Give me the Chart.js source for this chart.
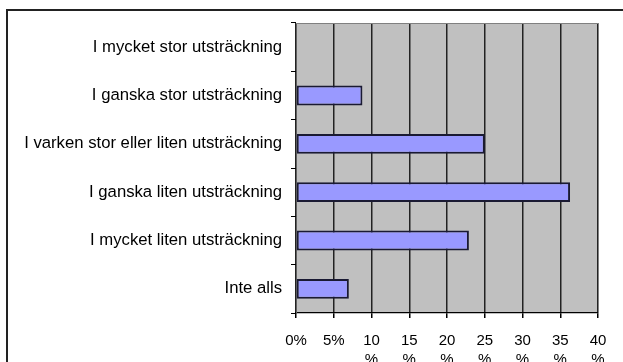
<!DOCTYPE html>
<html>
<head>
<meta charset="utf-8">
<style>
  html, body { margin: 0; padding: 0; background: #ffffff; overflow: hidden; }
  #wrap { position: relative; width: 623px; height: 362px; }
</style>
<script src="https://cdn.jsdelivr.net/npm/chart.js@4/dist/chart.umd.min.js"></script>
</head>
<body>
<div id="wrap"><canvas id="c" width="623" height="362"></canvas></div>
<script>
// Response categories, top to bottom
const categories = [
  'I mycket stor utsträckning',
  'I ganska stor utsträckning',
  'I varken stor eller liten utsträckning',
  'I ganska liten utsträckning',
  'I mycket liten utsträckning',
  'Inte alls'
];
// Share of answers, percent
const shares = [0, 8.8, 25.0, 36.3, 22.9, 7.0];
// X axis range and step, percent
const axisMin = 0;
const axisMax = 40;
const axisStep = 5;

const FONT = 'Arial, "Liberation Sans", sans-serif';

// Grey plot background, plot frame and the outer chart frame
const framePlugin = {
  id: 'frames',
  beforeDraw(chart) {
    const { ctx, chartArea: a } = chart;
    ctx.save();
    ctx.fillStyle = '#c0c0c0';
    ctx.fillRect(a.left, a.top, a.right - a.left, a.bottom - a.top);
    ctx.restore();
  },
  afterDraw(chart) {
    const { ctx, chartArea: a } = chart;
    ctx.save();
    ctx.strokeStyle = '#808080';
    ctx.lineWidth = 1;
    ctx.beginPath();
    ctx.moveTo(a.left, a.top + 0.5);
    ctx.lineTo(a.right + 0.5, a.top + 0.5);
    ctx.lineTo(a.right + 0.5, a.bottom);
    ctx.stroke();
    ctx.strokeStyle = '#222222';
    ctx.lineWidth = 2;
    ctx.strokeRect(7, 10, 700, 400);
    ctx.restore();
  }
};

new Chart(document.getElementById('c'), {
  type: 'bar',
  data: {
    labels: categories,
    datasets: [{
      data: shares,
      backgroundColor: '#9999ff',
      borderColor: '#1a1a33',
      borderWidth: 2,
      borderSkipped: false,
      barPercentage: 0.41,
      categoryPercentage: 1.0
    }]
  },
  options: {
    indexAxis: 'y',
    responsive: false,
    animation: false,
    devicePixelRatio: 1,
    layout: { padding: { top: 23, right: 25, left: 0, bottom: 0 } },
    plugins: {
      legend: { display: false },
      tooltip: { enabled: false }
    },
    scales: {
      x: {
        min: axisMin,
        max: axisMax,
        afterFit(scale) { scale.height = 49; },
        ticks: {
          stepSize: axisStep,
          autoSkip: false,
          maxRotation: 0,
          minRotation: 0,
          padding: 13,
          color: '#000000',
          font: { family: FONT, size: 15, lineHeight: 1.3 },
          callback: v => v < 10 ? v + '%' : [String(v), '%']
        },
        grid: {
          color: '#222222',
          lineWidth: 1.5,
          drawTicks: true,
          tickLength: 5,
          tickColor: '#000000'
        },
        border: { display: true, color: '#000000', width: 1.3 }
      },
      y: {
        afterFit(scale) { scale.width = 296; },
        ticks: {
          padding: 9,
          color: '#000000',
          font: { family: FONT, size: 16.7 }
        },
        grid: {
          offset: true,
          drawOnChartArea: false,
          drawTicks: true,
          tickLength: 5,
          tickColor: '#000000'
        },
        border: { display: true, color: '#606060', width: 1 }
      }
    }
  },
  plugins: [framePlugin]
});
</script>
</body>
</html>
